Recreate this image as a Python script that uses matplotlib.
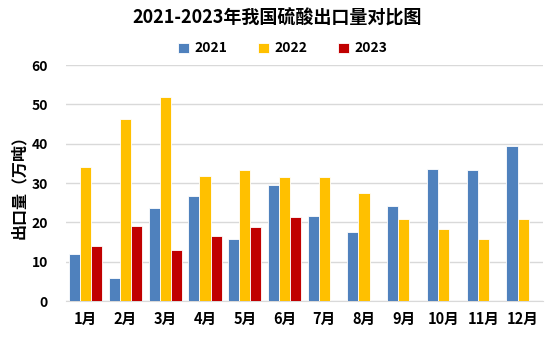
import numpy as np
import matplotlib
matplotlib.use('Agg')
import matplotlib.pyplot as plt

plt.rcParams['font.family'] = ['Noto Sans CJK SC', 'DejaVu Sans']

months = ['1月', '2月', '3月', '4月', '5月', '6月', '7月', '8月', '9月', '10月', '11月', '12月']
v2021 = [12.0, 5.8, 23.6, 26.7, 15.8, 29.5, 21.6, 17.5, 24.2, 33.6, 33.3, 39.4]
v2022 = [34.1, 46.3, 51.9, 31.8, 33.3, 31.5, 31.5, 27.5, 20.8, 18.3, 15.8, 20.8]
v2023 = [14.0, 19.1, 13.0, 16.5, 18.8, 21.4]
years = ['2021', '2022', '2023']
colors = ['#4F81BD', '#FFC000', '#C00000']

fig = plt.figure(figsize=(5.49, 3.39), dpi=100)
ax = fig.add_axes([0.120, 0.112, 0.869, 0.696])

x = np.arange(len(months))
w = 0.28
ax.bar(x - w, v2021, width=w, color=colors[0], edgecolor='white', linewidth=0.6, label=years[0], zorder=3)
ax.bar(x, v2022, width=w, color=colors[1], edgecolor='white', linewidth=0.6, label=years[1], zorder=3)
ax.bar(np.arange(len(v2023)) + w, v2023, width=w, color=colors[2], edgecolor='white', linewidth=0.6, label=years[2], zorder=3)

ax.set_xlim(-0.5, len(months) - 0.5)
ax.set_ylim(0, 60)
ax.set_yticks(range(0, 61, 10))
ax.set_xticks(x)
ax.set_xticklabels(months)
ax.grid(axis='y', color='#D9D9D9', linewidth=1, zorder=0)
for s in ['top', 'right', 'left']:
    ax.spines[s].set_visible(False)
ax.spines['bottom'].set_color('#D9D9D9')
ax.tick_params(axis='both', length=0)
ax.tick_params(axis='x', pad=7, labelsize=10.5)
ax.tick_params(axis='y', pad=13, labelsize=10)
for t in ax.get_xticklabels() + ax.get_yticklabels():
    t.set_fontweight('bold')

ax.set_ylabel('出口量（万吨）', fontsize=11.5, fontweight='bold', labelpad=3)

fig.text(0.505, 0.948, '2021-2023年我国硫酸出口量对比图', ha='center', va='center',
         fontsize=13, fontweight='bold')
fig.legend(loc='center', bbox_to_anchor=(0.515, 0.857), ncol=3, frameon=False,
           prop={'weight': 'bold', 'size': 10}, handlelength=0.75, handleheight=0.75,
           columnspacing=2.25, handletextpad=0.4)

fig.savefig('out.png', dpi=100)
